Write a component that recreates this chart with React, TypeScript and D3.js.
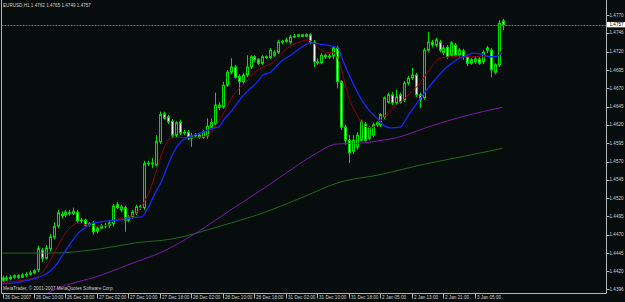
import React from 'react';
import * as d3 from 'd3';

const W = 625;
const H = 302;

const OPEN = [
  1.4408, 1.4411, 1.4410, 1.4412, 1.4414, 1.4412, 1.4415, 1.4416, 1.4418, 1.4422,
  1.4449, 1.4438, 1.4451, 1.4467, 1.4482, 1.4498, 1.4497, 1.4500, 1.4499, 1.4501,
  1.4489, 1.4490, 1.4483, 1.4486, 1.4475, 1.4479, 1.4482, 1.4483, 1.4485, 1.4511,
  1.4504, 1.4507, 1.4490, 1.4494, 1.4500, 1.4508, 1.4507, 1.4567, 1.4568, 1.4565,
  1.4597, 1.4635, 1.4631, 1.4625, 1.4606, 1.4624, 1.4609, 1.4610, 1.4602, 1.4605,
  1.4606, 1.4603, 1.4605, 1.4617, 1.4621, 1.4647, 1.4644, 1.4674, 1.4692, 1.4699,
  1.4686, 1.4679, 1.4688, 1.4699, 1.4713, 1.4709, 1.4704, 1.4713, 1.4712, 1.4715,
  1.4719, 1.4733, 1.4734, 1.4733, 1.4740, 1.4741, 1.4743, 1.4741, 1.4743, 1.4733,
  1.4706, 1.4705, 1.4715, 1.4713, 1.4714, 1.4725, 1.4679, 1.4617, 1.4599, 1.4584,
  1.4590, 1.4599, 1.4621, 1.4602, 1.4606, 1.4620, 1.4620, 1.4631, 1.4651, 1.4661,
  1.4650, 1.4661, 1.4654, 1.4677, 1.4684, 1.4688, 1.4661, 1.4657, 1.4722, 1.4733,
  1.4729, 1.4733, 1.4719, 1.4726, 1.4715, 1.4729, 1.4715, 1.4721, 1.4713, 1.4704,
  1.4706, 1.4710, 1.4706, 1.4725, 1.4722, 1.4692, 1.4702, 1.4762,
];
const HIGH = [
  1.4414, 1.4414, 1.4415, 1.4416, 1.4416, 1.4418, 1.4419, 1.4421, 1.4423, 1.4455,
  1.4452, 1.4456, 1.4471, 1.4487, 1.4504, 1.4502, 1.4504, 1.4504, 1.4507, 1.4504,
  1.4493, 1.4492, 1.4487, 1.4489, 1.4482, 1.4485, 1.4486, 1.4489, 1.4512, 1.4515,
  1.4511, 1.4510, 1.4497, 1.4504, 1.4511, 1.4511, 1.4571, 1.4571, 1.4575, 1.4606,
  1.4638, 1.4638, 1.4634, 1.4628, 1.4625, 1.4627, 1.4613, 1.4613, 1.4609, 1.4609,
  1.4609, 1.4613, 1.4629, 1.4629, 1.4664, 1.4651, 1.4679, 1.4695, 1.4711, 1.4702,
  1.4689, 1.4691, 1.4715, 1.4715, 1.4715, 1.4711, 1.4715, 1.4715, 1.4725, 1.4722,
  1.4736, 1.4736, 1.4739, 1.4743, 1.4744, 1.4744, 1.4744, 1.4745, 1.4745, 1.4736,
  1.4711, 1.4718, 1.4717, 1.4717, 1.4728, 1.4728, 1.4681, 1.4620, 1.4606, 1.4606,
  1.4610, 1.4627, 1.4624, 1.4618, 1.4623, 1.4625, 1.4636, 1.4659, 1.4664, 1.4665,
  1.4668, 1.4664, 1.4680, 1.4687, 1.4698, 1.4691, 1.4664, 1.4725, 1.4747, 1.4736,
  1.4739, 1.4736, 1.4729, 1.4729, 1.4734, 1.4732, 1.4725, 1.4724, 1.4715, 1.4711,
  1.4714, 1.4713, 1.4722, 1.4728, 1.4725, 1.4704, 1.4763, 1.4765,
];
const LOW = [
  1.4405, 1.4407, 1.4408, 1.4410, 1.4410, 1.4411, 1.4412, 1.4414, 1.4416, 1.4419,
  1.4433, 1.4436, 1.4447, 1.4464, 1.4479, 1.4492, 1.4494, 1.4496, 1.4497, 1.4486,
  1.4486, 1.4481, 1.4481, 1.4470, 1.4472, 1.4478, 1.4479, 1.4479, 1.4481, 1.4505,
  1.4501, 1.4474, 1.4487, 1.4492, 1.4497, 1.4504, 1.4504, 1.4564, 1.4561, 1.4563,
  1.4594, 1.4627, 1.4621, 1.4602, 1.4603, 1.4606, 1.4606, 1.4599, 1.4590, 1.4602,
  1.4601, 1.4601, 1.4601, 1.4614, 1.4618, 1.4640, 1.4642, 1.4672, 1.4689, 1.4683,
  1.4661, 1.4676, 1.4685, 1.4696, 1.4706, 1.4702, 1.4702, 1.4710, 1.4710, 1.4713,
  1.4717, 1.4730, 1.4732, 1.4730, 1.4739, 1.4740, 1.4740, 1.4740, 1.4730, 1.4699,
  1.4702, 1.4703, 1.4710, 1.4710, 1.4710, 1.4670, 1.4613, 1.4593, 1.4568, 1.4580,
  1.4586, 1.4597, 1.4597, 1.4599, 1.4603, 1.4617, 1.4617, 1.4628, 1.4649, 1.4647,
  1.4647, 1.4649, 1.4651, 1.4674, 1.4681, 1.4658, 1.4643, 1.4654, 1.4719, 1.4726,
  1.4726, 1.4719, 1.4715, 1.4710, 1.4713, 1.4713, 1.4713, 1.4709, 1.4700, 1.4702,
  1.4703, 1.4702, 1.4703, 1.4718, 1.4685, 1.4689, 1.4699, 1.4749,
];
const CLOSE = [
  1.4411, 1.4410, 1.4412, 1.4414, 1.4412, 1.4415, 1.4416, 1.4418, 1.4421, 1.4451,
  1.4438, 1.4452, 1.4467, 1.4481, 1.4500, 1.4496, 1.4501, 1.4499, 1.4502, 1.4489,
  1.4490, 1.4483, 1.4485, 1.4474, 1.4479, 1.4482, 1.4483, 1.4486, 1.4509, 1.4507,
  1.4508, 1.4490, 1.4494, 1.4501, 1.4508, 1.4509, 1.4567, 1.4568, 1.4567, 1.4597,
  1.4634, 1.4629, 1.4624, 1.4606, 1.4623, 1.4609, 1.4610, 1.4602, 1.4605, 1.4606,
  1.4603, 1.4610, 1.4618, 1.4623, 1.4647, 1.4644, 1.4674, 1.4692, 1.4699, 1.4685,
  1.4679, 1.4688, 1.4699, 1.4713, 1.4709, 1.4704, 1.4713, 1.4712, 1.4722, 1.4719,
  1.4733, 1.4734, 1.4736, 1.4740, 1.4741, 1.4743, 1.4741, 1.4743, 1.4733, 1.4706,
  1.4705, 1.4715, 1.4713, 1.4714, 1.4725, 1.4679, 1.4617, 1.4599, 1.4582, 1.4599,
  1.4606, 1.4624, 1.4599, 1.4616, 1.4620, 1.4623, 1.4634, 1.4657, 1.4661, 1.4650,
  1.4658, 1.4651, 1.4677, 1.4684, 1.4688, 1.4661, 1.4654, 1.4722, 1.4733, 1.4729,
  1.4736, 1.4722, 1.4725, 1.4713, 1.4732, 1.4715, 1.4722, 1.4713, 1.4704, 1.4709,
  1.4710, 1.4704, 1.4719, 1.4722, 1.4695, 1.4702, 1.4759, 1.4757,
];

// moving averages: [bar index, price]
const MA_RED: [number, number][] = [
  [0, 1.4405], [8, 1.4411], [10.6, 1.4422], [12.4, 1.4438], [14.2, 1.4456], [15.7, 1.4470],
  [17.5, 1.4481], [19.2, 1.4486], [21.8, 1.4483], [24.3, 1.4482], [26.8, 1.4483], [28.4, 1.4490],
  [30.9, 1.4493], [33.4, 1.4497], [36, 1.4515], [37.7, 1.4534], [39.5, 1.4565], [41, 1.4588],
  [42.8, 1.4602], [44.6, 1.4603], [47.1, 1.4603], [49.6, 1.4603], [52.2, 1.4606], [53.7, 1.4616],
  [55.4, 1.4629], [57.2, 1.4647], [58.7, 1.4661], [60.5, 1.4672], [62.3, 1.4681], [63.8, 1.4691],
  [66.3, 1.4699], [68.9, 1.4706], [72.4, 1.4725], [74.9, 1.4732], [77.5, 1.4736], [79, 1.4732],
  [80.8, 1.4722], [82.5, 1.4719], [84, 1.4719], [85.8, 1.4702], [87.1, 1.4674], [88.4, 1.4651],
  [90.1, 1.4633], [91.6, 1.4620], [93.4, 1.4616], [95.2, 1.4620], [96.7, 1.4629], [98.5, 1.4640],
  [101, 1.4651], [103.5, 1.4663], [106, 1.4677], [107.8, 1.4691], [109.4, 1.4702], [111, 1.4711],
  [113.7, 1.4713], [116.2, 1.4714], [118.7, 1.4713], [121.3, 1.4713], [123.8, 1.4713],
  [125.6, 1.4713], [127, 1.4725],
];
const MA_BLUE: [number, number][] = [
  [0, 1.4403], [4, 1.4405], [8.1, 1.4410], [10.6, 1.4415], [12.4, 1.4422], [14.2, 1.4433],
  [15.7, 1.4446], [17.5, 1.4460], [19.2, 1.4472], [20.8, 1.4479], [22.5, 1.4485], [24.3, 1.4487],
  [26.8, 1.4489], [29.4, 1.4490], [31.9, 1.4492], [33.9, 1.4494], [35.2, 1.4494], [37, 1.4507],
  [38.5, 1.4524], [40.3, 1.4542], [42, 1.4565], [43.5, 1.4583], [45.3, 1.4597], [47.1, 1.4603],
  [48.6, 1.4606], [50.4, 1.4609], [52.2, 1.4613], [53.7, 1.4616], [54.9, 1.4617], [56.2, 1.4627],
  [58, 1.4638], [59.7, 1.4650], [61.3, 1.4661], [63, 1.4670], [64.8, 1.4679], [66.1, 1.4688],
  [68.1, 1.4692], [70.6, 1.4706], [73.2, 1.4715], [75.7, 1.4725], [78.2, 1.4732], [80.8, 1.4730],
  [83.3, 1.4728], [85.1, 1.4725], [86.6, 1.4706], [88.4, 1.4684], [90.1, 1.4665], [91.6, 1.4651],
  [93.4, 1.4638], [95.2, 1.4629], [96.7, 1.4620], [98.5, 1.4616], [101, 1.4617], [102.8, 1.4631],
  [105.3, 1.4650], [107.8, 1.4668], [110.4, 1.4685], [112.9, 1.4699], [115.4, 1.4709],
  [118, 1.4715], [119.5, 1.4718], [121.3, 1.4717], [123.8, 1.4713], [125.6, 1.4714], [127, 1.4718],
];
const MA_PURPLE: [number, number][] = [
  [9.9, 1.4386], [13.2, 1.4395], [25.1, 1.4415], [33.9, 1.4433], [40.3, 1.4446], [49.6, 1.4474],
  [58, 1.4504], [66.8, 1.4535], [73.9, 1.4561], [79, 1.4579], [85.1, 1.4594], [90.9, 1.4595],
  [95.2, 1.4598], [99.7, 1.4602], [108.6, 1.4618], [119.5, 1.4635], [127, 1.4644],
];
const MA_GREEN: [number, number][] = [
  [0, 1.4445], [12.4, 1.4445], [25.1, 1.4451], [33.9, 1.4459], [42.8, 1.4464], [55.4, 1.4482],
  [66.8, 1.4501], [75.7, 1.4520], [85.8, 1.4542], [95.9, 1.4552], [106, 1.4565], [116.2, 1.4576],
  [127, 1.4588],
];

const PRICE_TICKS = [1.4770, 1.4746, 1.4720, 1.4695, 1.4670, 1.4645, 1.4620, 1.4595, 1.4570,
  1.4545, 1.4520, 1.4495, 1.4470, 1.4445, 1.4420, 1.4396];
const TIME_TICK_BARS = [0, 8, 16, 24, 32, 40, 48, 56, 64, 72, 80, 88, 96, 104, 112, 120];
const TIME_LABELS = ['26 Dec 2007', '26 Dec 10:00', '26 Dec 18:00', '27 Dec 02:00', '27 Dec 10:00',
  '27 Dec 18:00', '28 Dec 02:00', '28 Dec 10:00', '28 Dec 18:00', '31 Dec 02:00', '31 Dec 10:00',
  '31 Dec 18:00', '2 Jan 05:00', '2 Jan 13:00', '2 Jan 21:00', '3 Jan 05:00'];
const TITLE = 'EURUSD,H1  1.4762 1.4765 1.4749 1.4757';
const BID = 1.4757;
const COPYRIGHT = 'MetaTrader, \u00A9 2001-2007 MetaQuotes Software Corp.';

const FONT = '"Liberation Sans", Arial, sans-serif';
const FS = 4.6;

export default function App() {
  const plotL = 1.5, plotR = 606.5, plotB = 293.5;
  const x = d3.scaleLinear().domain([0, 127]).range([2.5, 502.5]);
  const y = d3.scaleLinear().domain([1.4395, 1.4770]).range([289.7, 15]);

  const line = d3.line<[number, number]>()
    .x(d => x(d[0]))
    .y(d => y(d[1]))
    .curve(d3.curveMonotoneX);

  const bars = d3.range(CLOSE.length);

  return (
    <svg width={W} height={H} style={{ position: 'fixed', left: 0, top: 0, display: 'block' }}
      xmlns="http://www.w3.org/2000/svg">
      <defs>
        <clipPath id="plot">
          <rect x={plotL} y={0} width={plotR - plotL} height={plotB} />
        </clipPath>
      </defs>
      <rect x={0} y={0} width={W} height={H} fill="#070c0c" />

      {/* bid line */}
      <line x1={plotL} x2={plotR} y1={Math.round(y(BID)) + 0.5} y2={Math.round(y(BID)) + 0.5}
        stroke="#6e6e6e" strokeWidth={1} strokeDasharray="2,1" />

      <g clipPath="url(#plot)">
        {bars.map(i => {
          const cx = Math.round(x(i)) + 0.5;
          const o = OPEN[i], c = CLOSE[i];
          const bull = c >= o;
          const top = y(Math.max(o, c));
          const bot = y(Math.min(o, c));
          return (
            <g key={i}>
              <line x1={cx} x2={cx} y1={y(HIGH[i])} y2={y(LOW[i])} stroke="#00dc00" strokeWidth={1} />
              <rect x={cx - 1} y={top} width={2} height={Math.max(bot - top, 0.8)}
                fill={bull ? '#0b1f0b' : '#eefff0'} stroke="#00dc00" strokeWidth={1} />
            </g>
          );
        })}
        <path d={line(MA_GREEN) || ''} fill="none" stroke="#1f6a1f" strokeWidth={1} />
        <path d={line(MA_PURPLE) || ''} fill="none" stroke="#7d1aa8" strokeWidth={1} />
        <path d={line(MA_RED) || ''} fill="none" stroke="#9a0000" strokeWidth={1} />
        <path d={line(MA_BLUE) || ''} fill="none" stroke="#1428ff" strokeWidth={1.3} />
      </g>

      {/* frame */}
      <line x1={plotL} x2={plotL} y1={0} y2={plotB} stroke="#b4b4b4" />
      <line x1={plotR} x2={plotR} y1={0} y2={plotB} stroke="#b4b4b4" />
      <line x1={plotL} x2={plotR} y1={plotB} y2={plotB} stroke="#b4b4b4" />

      {/* price axis */}
      {PRICE_TICKS.map((p, k) => (
        <g key={k}>
          <line x1={plotR} x2={plotR + 3} y1={Math.round(y(p)) + 0.5} y2={Math.round(y(p)) + 0.5} stroke="#b4b4b4" />
          <text x={609.5} y={y(p)} dy="0.35em" fontFamily={FONT} fontSize={FS} fill="#d0d0d0">{p.toFixed(4)}</text>
        </g>
      ))}
      <rect x={607} y={y(BID) - 2.6} width={18} height={5.4} fill="#ffffff" />
      <text x={609.5} y={y(BID)} dy="0.35em" fontFamily={FONT} fontSize={FS} fill="#000000">{BID.toFixed(4)}</text>

      {/* time axis */}
      {TIME_TICK_BARS.map((b, k) => {
        const tx = Math.round(x(b)) + 0.5;
        return (
          <g key={k}>
            <line x1={tx} x2={tx} y1={plotB} y2={plotB + 5} stroke="#b4b4b4" />
            <text x={tx + 1.5} y={297} dy="0.35em" fontFamily={FONT} fontSize={FS} fill="#d0d0d0">{TIME_LABELS[k]}</text>
          </g>
        );
      })}

      <text x={3} y={5.5} dy="0.35em" fontFamily={FONT} fontSize={FS} fill="#d0d0d0">{TITLE}</text>
      <text x={3} y={288.5} dy="0.35em" fontFamily={FONT} fontSize={FS} fill="#d0d0d0">{COPYRIGHT}</text>
    </svg>
  );
}
